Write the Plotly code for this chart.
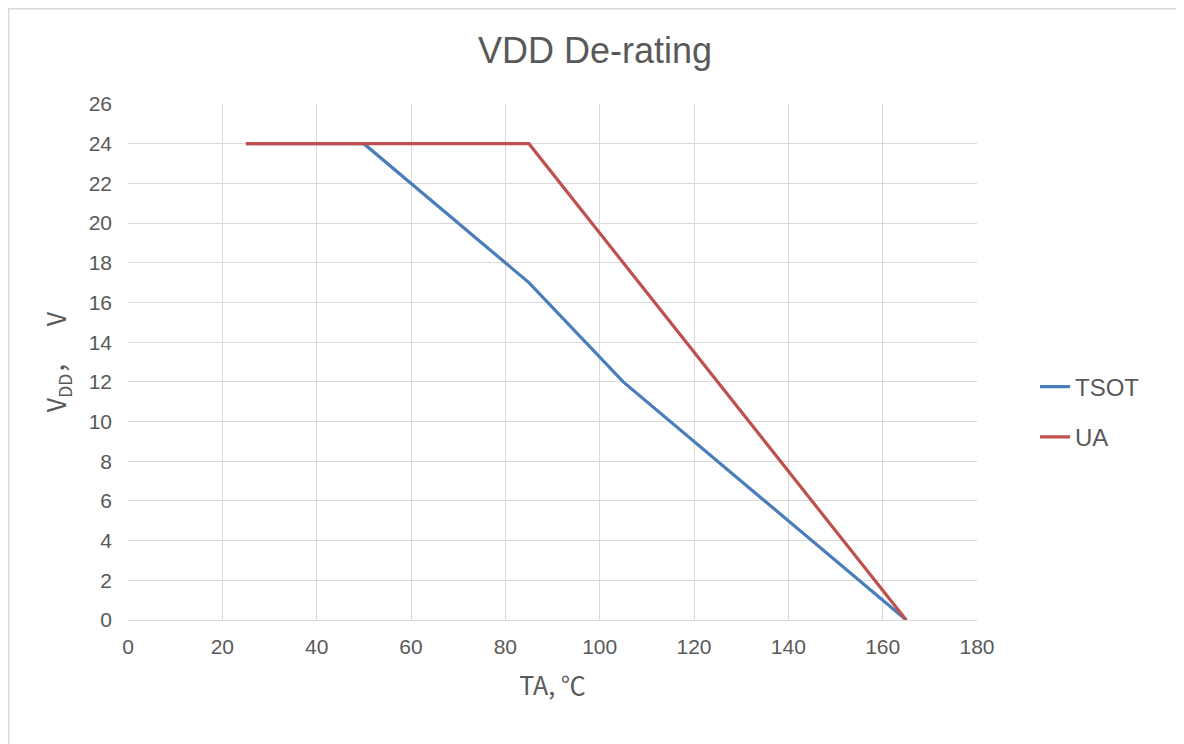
import plotly.graph_objects as go

tsot_x = [25, 50, 85, 105, 165]
tsot_y = [24, 24, 17, 12, 0]
ua_x = [25, 85, 165]
ua_y = [24, 24, 0]

x_ticks = [0, 20, 40, 60, 80, 100, 120, 140, 160, 180]
y_ticks = [0, 2, 4, 6, 8, 10, 12, 14, 16, 18, 20, 22, 24, 26]

W, H = 1176, 736
L, R, T, B = 120, 207, 96, 124
PW = W - L - R
PH = H - T - B

fig = go.Figure()
fig.add_trace(go.Scatter(x=tsot_x, y=tsot_y, mode="lines", name="TSOT",
                         legendgroup="a",
                         line=dict(color="#4a7ebb", width=3.2)))
fig.add_trace(go.Scatter(x=ua_x, y=ua_y, mode="lines", name="UA",
                         legendgroup="b",
                         line=dict(color="#c0504d", width=3.2)))

grid = "#d9d9d9"
fig.update_layout(
    width=W, height=H,
    paper_bgcolor="white", plot_bgcolor="white",
    margin=dict(l=L, r=R, t=T, b=B),
    font=dict(family="Liberation Sans, Arial, sans-serif", color="#595959", size=22),
    title=dict(text="VDD De-rating", x=587 / W, xanchor="center",
               y=1 - 42 / H, yanchor="middle",
               font=dict(size=36, color="#595959")),
    xaxis=dict(range=[0, 180], tickvals=x_ticks, showgrid=True, gridcolor=grid,
               gridwidth=1.3, showline=True, linecolor=grid, linewidth=1.3,
               zeroline=False, ticks="", ticklabelstandoff=8,
               tickfont=dict(size=21),
               title=dict(text="TA, ℃", standoff=20,
                          font=dict(size=25, family="Noto Sans CJK SC, sans-serif"))),
    yaxis=dict(range=[0, 26], tickvals=y_ticks, showgrid=True, gridcolor=grid,
               gridwidth=1.3, showline=False, zeroline=False, ticks="",
               ticklabelstandoff=15, tickfont=dict(size=21),
               title=dict(text="V<sub>DD</sub>，&nbsp;&nbsp;&nbsp;&nbsp;V", standoff=14,
                          font=dict(size=25, family="Noto Sans CJK SC, sans-serif"))),
    legend=dict(x=(1027 - L) / PW, xanchor="left", y=(612 - 404) / PH, yanchor="middle",
                font=dict(size=24), tracegroupgap=16, traceorder="grouped",
                bgcolor="rgba(0,0,0,0)"),
    showlegend=True,
)

fig.add_shape(type="rect", xref="paper", yref="paper",
              x0=(0.8 - L) / PW, x1=(W + 30 - L) / PW,
              y0=-(B + 30) / PH, y1=1 + (T - 0.8) / PH,
              line=dict(color="#d9d9d9", width=1.5), layer="below")

fig.write_html("out.html")
